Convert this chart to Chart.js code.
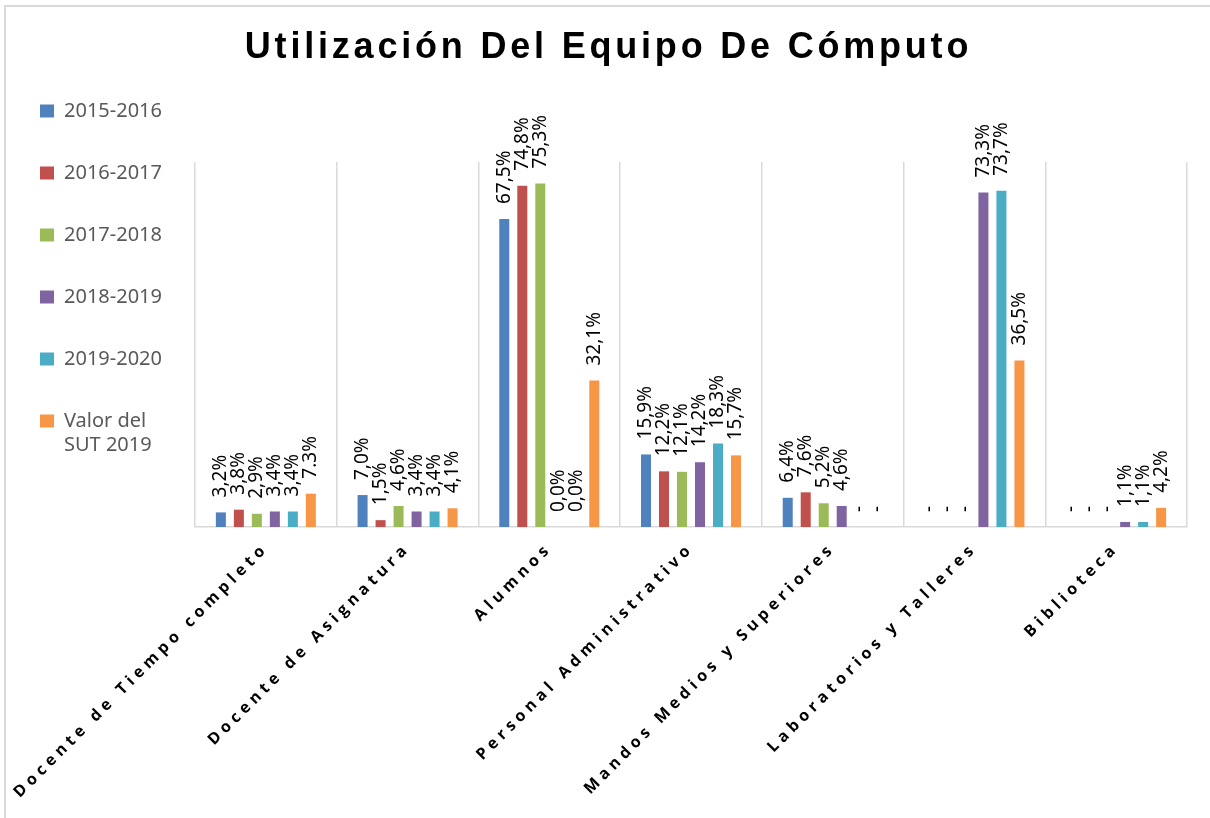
<!DOCTYPE html>
<html>
<head>
<meta charset="utf-8">
<script src="https://cdn.jsdelivr.net/npm/chart.js@4.4.1/dist/chart.umd.min.js"></script>
<style>
html, body { margin: 0; padding: 0; background: #fff; overflow: hidden; }
#frame { position: absolute; left: 4px; top: 5px; width: 1300px; height: 900px; border: 2px solid #d9d9d9; }
#chart { position: absolute; left: 0; top: 0; }
</style>
</head>
<body>
<div id="frame"></div>
<canvas id="chart" width="1210" height="818"></canvas>
<script>
var chartTitle = 'Utilización Del Equipo De Cómputo';

var categories = ['Docente de Tiempo completo', 'Docente de Asignatura', 'Alumnos',
    'Personal Administrativo', 'Mandos Medios y Superiores', 'Laboratorios y Talleres', 'Biblioteca'];

var seriesNames = ['2015-2016', '2016-2017', '2017-2018', '2018-2019', '2019-2020', 'Valor del SUT 2019'];
var legendText = ['2015-2016', '2016-2017', '2017-2018', '2018-2019', '2019-2020', ['Valor del', 'SUT 2019']];
var seriesColors = ['#4F81BD', '#C0504D', '#9BBB59', '#8064A2', '#4BACC6', '#F79646'];

// percent values, null = no data (shown as "-")
var y2015 = [3.2, 7.0, 67.5, 15.9, 6.4, null, null];
var y2016 = [3.8, 1.5, 74.8, 12.2, 7.6, null, null];
var y2017 = [2.9, 4.6, 75.3, 12.1, 5.2, null, null];
var y2018 = [3.4, 3.4, 0.0, 14.2, 4.6, 73.3, 1.1];
var y2019 = [3.4, 3.4, 0.0, 18.3, null, 73.7, 1.1];
var sut2019 = [7.3, 4.1, 32.1, 15.7, null, 36.5, 4.2];
var seriesValues = [y2015, y2016, y2017, y2018, y2019, sut2019];

// one label in the source uses a point instead of a comma
var labelExceptions = [{ series: 5, index: 0, text: '7.3%' }];

function labelText(d, i, v) {
    for (var k = 0; k < labelExceptions.length; k++) {
        if (labelExceptions[k].series == d && labelExceptions[k].index == i) return labelExceptions[k].text;
    }
    if (v == null) return '-';
    return v.toFixed(1).replace('.', ',') + '%';
}

var barLabels = {
    id: 'barLabels',
    afterDatasetsDraw: function (chart) {
        var ctx = chart.ctx;
        var yScale = chart.scales.y;
        ctx.save();
        ctx.font = '19px "Noto Sans"';
        ctx.fillStyle = '#000';
        ctx.textAlign = 'left';
        ctx.textBaseline = 'middle';
        chart.data.datasets.forEach(function (ds, d) {
            chart.getDatasetMeta(d).data.forEach(function (bar, i) {
                var v = ds.data[i];
                var top = (v == null) ? yScale.getPixelForValue(0) : bar.y;
                ctx.save();
                ctx.translate(bar.x, top - 15);
                ctx.rotate(-Math.PI / 2);
                ctx.fillText(labelText(d, i, v), 0, 0);
                ctx.restore();
            });
        });
        ctx.restore();
    }
};

// Chart.js has no letter spacing option, so wrap the draw calls of title and x labels
function withSpacing(obj, method, spacing, dx) {
    if (!obj || obj[method]._spaced) return;
    var orig = obj[method];
    var fn = function () {
        var ctx = this.ctx;
        ctx.save();
        ctx.letterSpacing = spacing;
        if (dx) ctx.translate(dx, 0);
        orig.apply(this, arguments);
        ctx.restore();
    };
    fn._spaced = true;
    obj[method] = fn;
}

var letterSpacing = {
    id: 'letterSpacing',
    beforeDraw: function (chart) {
        withSpacing(chart.titleBlock, 'draw', '3.8px', 16);
        withSpacing(chart.scales.x, 'drawLabels', '4.6px', 0);
    }
};

var datasets = seriesValues.map(function (vals, d) {
    return {
        label: seriesNames[d],
        data: vals,
        backgroundColor: seriesColors[d],
        borderWidth: 0,
        categoryPercentage: 0.762,
        barPercentage: 0.556
    };
});

new Chart(document.getElementById('chart'), {
    type: 'bar',
    data: { labels: categories, datasets: datasets },
    options: {
        responsive: false,
        animation: false,
        events: [],
        layout: { padding: { top: 59, left: -2, right: 23, bottom: 0 } },
        plugins: {
            title: {
                display: true,
                text: chartTitle,
                color: '#000',
                font: { family: '"Liberation Sans", Arial, sans-serif', size: 36, weight: 'bold' },
                padding: { top: -32.6, bottom: 92.4 }
            },
            legend: {
                position: 'left',
                align: 'start',
                labels: {
                    boxWidth: 14,
                    boxHeight: 13,
                    padding: 42,
                    color: '#595959',
                    font: { family: '"Noto Sans"', size: 20 },
                    generateLabels: function (chart) {
                        var items = Chart.defaults.plugins.legend.labels.generateLabels(chart);
                        items.forEach(function (it, k) { it.text = legendText[k]; it.lineWidth = 0; });
                        return items;
                    }
                }
            },
            tooltip: { enabled: false }
        },
        scales: {
            x: {
                grid: { offset: true, color: '#d9d9d9', lineWidth: 1.5, drawTicks: false },
                border: { color: '#d9d9d9', width: 1.5 },
                ticks: {
                    autoSkip: false,
                    minRotation: 45,
                    maxRotation: 45,
                    color: '#000',
                    padding: 12,
                    font: { family: '"Open Sans"', size: 16, weight: 'bold' }
                },
                afterFit: function (s) { s.height = 291; }
            },
            y: {
                min: 0,
                max: 80,
                grid: { display: false },
                border: { display: false },
                ticks: { display: false },
                afterFit: function (s) {
                    var lg = s.chart.legend;
                    s.width = 197 - (lg ? lg.width : 0);
                }
            }
        }
    },
    plugins: [barLabels, letterSpacing]
});
</script>
</body>
</html>
